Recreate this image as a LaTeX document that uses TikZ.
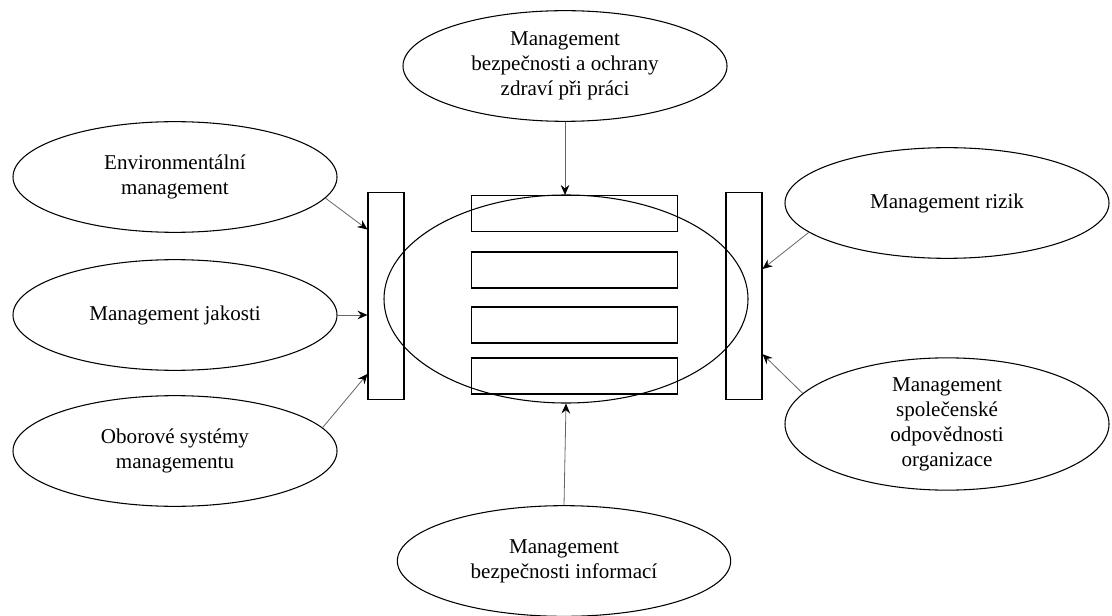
\documentclass[tikz,border=0pt]{standalone}
\usepackage{fontspec}
\setmainfont{Liberation Serif}
\usetikzlibrary{arrows.meta,calc,shapes.geometric}
\begin{document}
\begin{tikzpicture}[x=0.75pt,y=-0.75pt,
  area/.style={ellipse,draw=black,line width=0.8pt,inner sep=0pt,
    minimum width=243pt,minimum height=83pt,align=center,
    font=\fontsize{15.8pt}{18.8pt}\selectfont},
  slot/.style={rectangle,draw=black,line width=0.8pt,inner sep=0pt,
    minimum width=155pt,minimum height=27pt},
  bar/.style={rectangle,draw=black,line width=0.8pt,inner sep=0pt,
    minimum width=27pt,minimum height=155pt},
  link/.style={draw=black!60,line width=0.6pt,
    -{Stealth[length=7.5pt,width=6.5pt,inset=2.6pt,black]}}]
  \fill[white] (0,0) rectangle (1112,616);
  \useasboundingbox (0,0) rectangle (1112,616);

  % central system with its four parts
  \node[ellipse,draw=black,line width=0.8pt,inner sep=0pt,
        minimum width=273pt,minimum height=156pt] (core) at (566,299) {};
  \node[slot] (r1) at (574.5,213.5) {};
  \node[slot] (r2) at (574.5,270) {};
  \node[slot] (r3) at (574.5,325) {};
  \node[slot] (r4) at (574.5,376) {};

  % side bars
  \node[bar] (lbar) at (386,296) {};
  \node[bar] (rbar) at (744,296) {};

  % surrounding management systems
  \node[area] (top) at (565,66) {Management\\bezpečnosti a ochrany\\zdraví při práci};
  \node[area] (env) at (175,177) {Environmentální\\management};
  \node[area] (jak) at (175,315) {Management jakosti};
  \node[area] (obor) at (175,451) {Oborové systémy\\managementu};
  \node[area] (riz) at (947,203) {Management rizik};
  \node[area] (spol) at (947,424) {Management\\společenské\\odpovědnosti\\organizace};
  \node[area,minimum width=250pt] (bot) at (564,561) {Management\\bezpečnosti informací};

  % connectors
  \draw[link] (top.south) -- (top.south |- r1.north);
  \draw[link] (bot.north) -- (core.south);
  \draw[link] (env.-8) -- ($(lbar.north west)!0.18!(lbar.south west)$);
  \draw[link] (jak.east) -- (jak.east -| lbar.west);
  \draw[link] (obor.9) -- ($(lbar.north west)!0.875!(lbar.south west)$);
  \draw[link] (riz.192) -- ($(rbar.north east)!0.37!(rbar.south east)$);
  \draw[link] (spol.168) -- ($(rbar.north east)!0.78!(rbar.south east)$);
\end{tikzpicture}
\end{document}
